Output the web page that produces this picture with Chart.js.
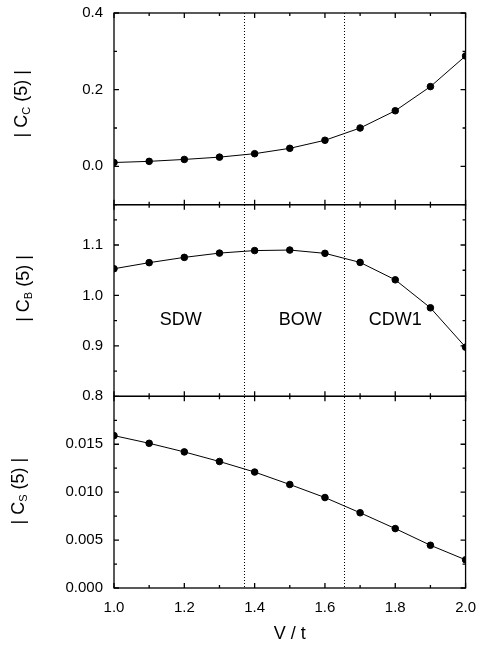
<!DOCTYPE html>
<html>
<head>
<meta charset="utf-8">
<script src="https://cdn.jsdelivr.net/npm/chart.js@4.4.0/dist/chart.umd.min.js"></script>
<style>
  html, body { margin: 0; padding: 0; background: #fff; }
  #wrap { width: 479px; height: 647px; }
</style>
</head>
<body>
<div id="wrap"><canvas id="chart"></canvas></div>
<script>
'use strict';

// V / t values shared by all three panels
const vt = [1.0, 1.1, 1.2, 1.3, 1.4, 1.5, 1.6, 1.7, 1.8, 1.9, 2.0];
const cC = [0.010, 0.013, 0.018, 0.024, 0.033, 0.047, 0.068, 0.100, 0.145, 0.208, 0.288];
const cB = [1.053, 1.065, 1.0755, 1.084, 1.089, 1.090, 1.0835, 1.0655, 1.031, 0.9755, 0.8975];
const cS = [0.0159, 0.0151, 0.0142, 0.0132, 0.0121, 0.0108, 0.00944, 0.00785, 0.0062, 0.00446, 0.00294];

// phase boundaries and names
const phaseBounds = [1.37, 1.655];
const phaseNames = ['SDW', 'BOW', 'CDW1'];
const phaseNameX = [1.19, 1.53, 1.80];
const phaseNameY = 0.952;

// tick labels
const xMajor = [1.0, 1.2, 1.4, 1.6, 1.8, 2.0];
const xMinor = [1.1, 1.3, 1.5, 1.7, 1.9];
const yTicksC = [0.0, 0.2, 0.4];
const yMinorC = [-0.1, 0.1, 0.3];
const yTicksB = [0.8, 0.9, 1.0, 1.1];
const yMinorB = [0.85, 0.95, 1.05, 1.15];
const yTicksS = [0.000, 0.005, 0.010, 0.015];
const yMinorS = [0.0025, 0.0075, 0.0125, 0.0175];

const FONT = '"Liberation Sans", Arial, sans-serif';
Chart.defaults.font.family = FONT;
Chart.defaults.color = '#000';

function series(vals, axis) {
  return {
    data: vt.map((x, i) => ({ x: x, y: vals[i] })),
    yAxisID: axis,
    borderColor: '#000',
    backgroundColor: '#000',
    borderWidth: 1,
    pointRadius: 3.3,
    pointHoverRadius: 3.3,
    tension: 0
  };
}

function yAxis(min, max, ticks, digits) {
  return {
    type: 'linear',
    position: 'left',
    stack: 'panels',
    stackWeight: 1,
    min: min,
    max: max,
    grid: { display: false },
    border: { display: false },
    afterFit: s => { s.width = 114; },
    afterBuildTicks: s => { s.ticks = ticks.map(v => ({ value: v })); },
    ticks: { font: { size: 15 }, padding: 3, callback: v => v.toFixed(digits) }
  };
}

const panels = [
  { id: 'yS', major: yTicksS, minor: yMinorS, sub: 'S', tx: 19, shift: -1 },
  { id: 'yB', major: yTicksB, minor: yMinorB, sub: 'B', tx: 24, shift: -12 },
  { id: 'yC', major: yTicksC, minor: yMinorC, sub: 'C', tx: 22, shift: -5 }
];

function drawYTitle(ctx, x, y, sub) {
  const big = '18px ' + FONT, small = '11px ' + FONT;
  ctx.save();
  ctx.translate(x, y);
  ctx.rotate(-Math.PI / 2);
  ctx.fillStyle = '#000';
  ctx.textBaseline = 'middle';
  ctx.textAlign = 'left';
  ctx.font = big;
  const a = '| C', b = ' (5) |';
  const wa = ctx.measureText(a).width, wb = ctx.measureText(b).width;
  ctx.font = small;
  const ws = ctx.measureText(sub).width;
  let px = -(wa + ws + wb) / 2;
  ctx.font = big;
  ctx.fillText(a, px, 0);
  px += wa;
  ctx.font = small;
  ctx.fillText(sub, px, 5);
  px += ws;
  ctx.font = big;
  ctx.fillText(b, px, 0);
  ctx.restore();
}

const panelPlugin = {
  id: 'panels',
  beforeDatasetsDraw(chart) {
    const ctx = chart.ctx, area = chart.chartArea, xs = chart.scales.x;
    ctx.save();
    ctx.strokeStyle = '#000';
    ctx.lineWidth = 1;
    ctx.setLineDash([1, 2]);
    phaseBounds.forEach(v => {
      const px = Math.round(xs.getPixelForValue(v)) + 0.5;
      ctx.beginPath();
      ctx.moveTo(px, area.top);
      ctx.lineTo(px, area.bottom);
      ctx.stroke();
    });
    ctx.restore();
  },
  afterDatasetsDraw(chart) {
    const ctx = chart.ctx, area = chart.chartArea, xs = chart.scales.x;
    const L = area.left, R = area.right;
    ctx.save();
    ctx.strokeStyle = '#000';
    ctx.lineWidth = 1.3;
    ctx.setLineDash([]);
    panels.forEach(p => {
      const s = chart.scales[p.id];
      const T = s.top, B = s.bottom;
      ctx.strokeRect(L, T, R - L, B - T);
      ctx.beginPath();
      const tick = (x1, y1, x2, y2) => { ctx.moveTo(x1, y1); ctx.lineTo(x2, y2); };
      xMajor.forEach(v => {
        const px = xs.getPixelForValue(v);
        tick(px, T, px, T + 5); tick(px, B, px, B - 5);
      });
      xMinor.forEach(v => {
        const px = xs.getPixelForValue(v);
        tick(px, T, px, T + 3); tick(px, B, px, B - 3);
      });
      p.major.forEach(v => {
        const py = s.getPixelForValue(v);
        tick(L, py, L + 5, py); tick(R, py, R - 5, py);
      });
      p.minor.forEach(v => {
        const py = s.getPixelForValue(v);
        tick(L, py, L + 3, py); tick(R, py, R - 3, py);
      });
      ctx.stroke();
      drawYTitle(ctx, p.tx, (T + B) / 2 + p.shift, p.sub);
    });
    // phase names in the middle panel
    const sb = chart.scales.yB;
    ctx.font = '18px ' + FONT;
    ctx.fillStyle = '#000';
    ctx.textAlign = 'center';
    ctx.textBaseline = 'middle';
    phaseNames.forEach((n, i) => {
      ctx.fillText(n, xs.getPixelForValue(phaseNameX[i]), sb.getPixelForValue(phaseNameY));
    });
    ctx.restore();
  }
};

new Chart(document.getElementById('chart'), {
  type: 'line',
  data: {
    datasets: [series(cS, 'yS'), series(cB, 'yB'), series(cC, 'yC')]
  },
  options: {
    responsive: true,
    maintainAspectRatio: false,
    animation: false,
    layout: { padding: { top: 13, right: 10, left: 0, bottom: 0 } },
    plugins: { legend: { display: false }, tooltip: { enabled: false } },
    scales: {
      x: {
        type: 'linear',
        min: 1,
        max: 2,
        grid: { display: false },
        border: { display: false },
        afterFit: s => { s.height = 59; },
        afterBuildTicks: s => { s.ticks = xMajor.map(v => ({ value: v })); },
        ticks: { font: { size: 15 }, padding: 3, maxRotation: 0, autoSkip: false, callback: v => v.toFixed(1) },
        title: { display: true, text: 'V / t', font: { size: 18 }, padding: { top: 0, bottom: 2 } }
      },
      yS: yAxis(0, 0.02, yTicksS, 3),
      yB: yAxis(0.8, 1.18, yTicksB, 1),
      yC: yAxis(-0.1, 0.4, yTicksC, 1)
    }
  },
  plugins: [panelPlugin]
});
</script>
</body>
</html>
